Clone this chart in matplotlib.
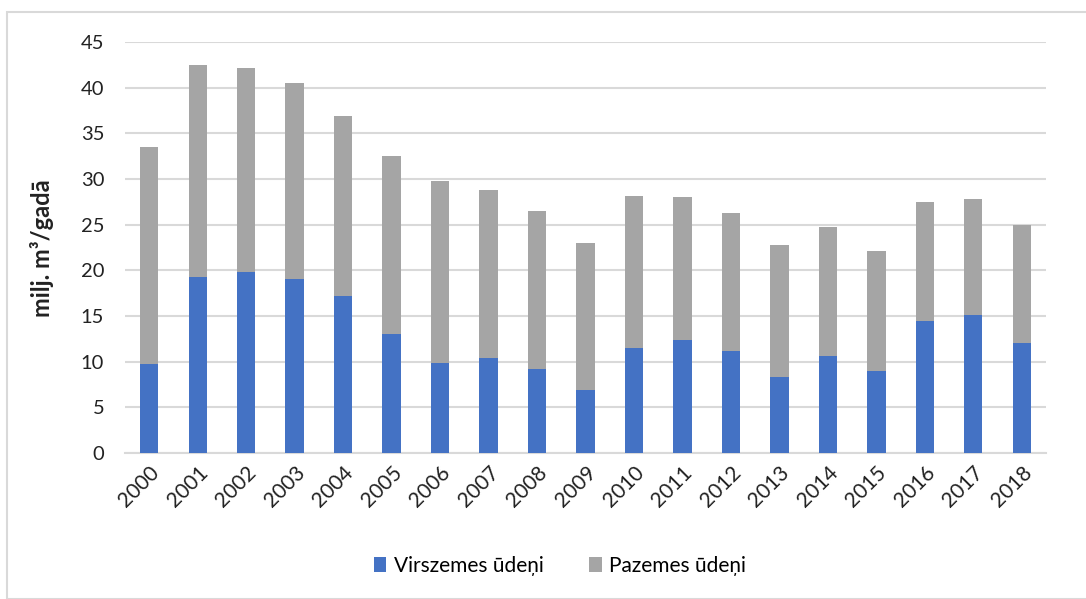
import matplotlib
matplotlib.use('Agg')
import matplotlib.pyplot as plt
from matplotlib.patches import Rectangle
import numpy as np

plt.rcParams['font.family'] = ['Lato', 'DejaVu Sans']

# water abstraction, million m3 per year
years = [str(y) for y in range(2000, 2019)]
surface = [9.7, 19.25, 19.8, 19.05, 17.2, 13.0, 9.8, 10.35, 9.25, 6.9,
           11.55, 12.4, 11.15, 8.35, 10.65, 8.95, 14.45, 15.15, 12.0]
total = [33.5, 42.5, 42.2, 40.5, 36.85, 32.55, 29.75, 28.75, 26.55, 22.95,
         28.15, 28.0, 26.3, 22.8, 24.7, 22.1, 27.45, 27.85, 25.0]
ground = [t - s for t, s in zip(total, surface)]

BLUE = '#4472C4'
GREY = '#A5A5A5'
GRID = '#D9D9D9'

fig = plt.figure(figsize=(10.86, 5.99), dpi=100)
ax = fig.add_axes([125/1086, 1 - 453/599, (1046 - 125)/1086, (453 - 42)/599])

x = np.arange(len(years))
ax.bar(x, surface, width=0.38, color=BLUE, label='Virszemes ūdeņi', zorder=3)
ax.bar(x, ground, width=0.38, bottom=surface, color=GREY,
       label='Pazemes ūdeņi', zorder=3)

ax.set_xlim(-0.5, len(years) - 0.5)
ax.set_ylim(0, 45)
ax.set_yticks(range(0, 46, 5))
ax.yaxis.grid(True, color=GRID, linewidth=1.5, zorder=0)
ax.set_axisbelow(True)
for side in ['top', 'right', 'left']:
    ax.spines[side].set_visible(False)
ax.spines['bottom'].set_color(GRID)
ax.spines['bottom'].set_linewidth(1.5)
ax.tick_params(axis='both', length=0, labelsize=14.5, colors='#222222')
ax.tick_params(axis='y', pad=15)
ax.set_xticks(x)
ax.set_xticklabels(years, rotation=45, ha='right', rotation_mode='anchor',
                   fontsize=15)
ax.tick_params(axis='x', pad=7)

fig.text(42/1086, 1 - 248/599, 'milj. m³/gadā', rotation=90, ha='center',
         va='center', fontsize=17, fontweight='bold', color='#222222')

fig.legend(loc='center', bbox_to_anchor=(560/1086, 1 - 566/599), ncol=2,
           frameon=False, fontsize=15, handlelength=0.6, handleheight=0.7,
           handletextpad=0.35, columnspacing=2.2)

# chart border
fig.patches.append(Rectangle((7/1086, 0), 1.0, 1 - 12/599, transform=fig.transFigure,
                             fill=False, edgecolor=GRID, linewidth=1.5))

fig.savefig('out.png', dpi=100)
